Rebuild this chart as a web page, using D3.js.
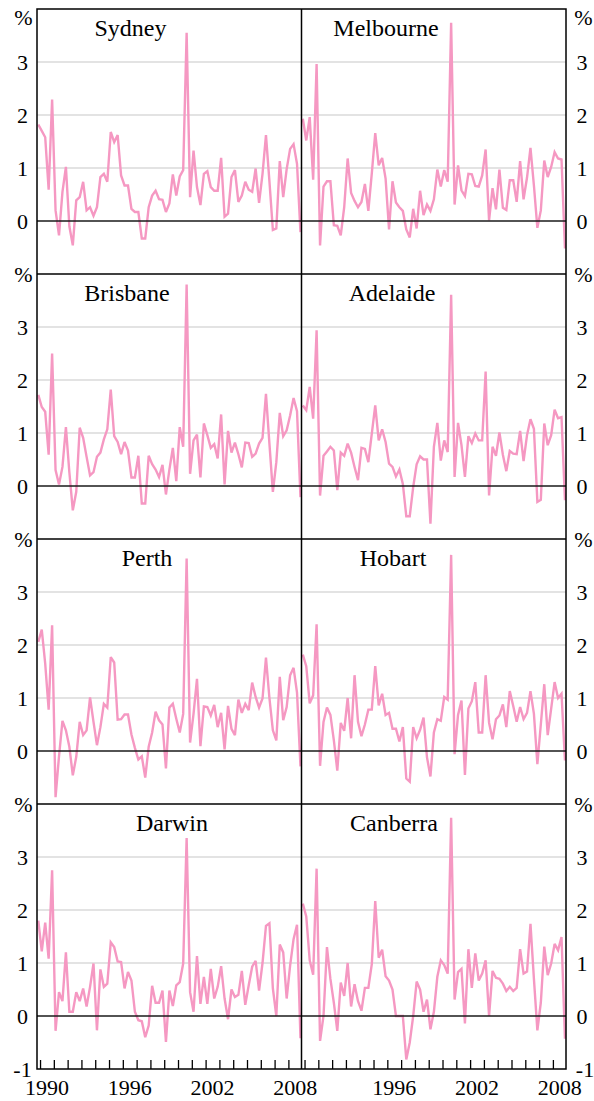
<!DOCTYPE html>
<html><head><meta charset="utf-8">
<script src="https://cdn.jsdelivr.net/npm/d3@7"></script>
<style>body{margin:0;background:#fff}svg{display:block}text{font-family:"Liberation Serif","Times New Roman",serif;fill:#000}</style>
</head><body>
<script>
// ---- data (quarterly % change, 1989 Q4 to 2008 Q4) ----
const cities = ["Sydney","Melbourne","Brisbane","Adelaide","Perth","Hobart","Darwin","Canberra"];
const startYear = 1989, startQuarter = 4;
const sydney = [1.82,1.70,1.58,0.59,2.29,0.20,-0.27,0.55,1.02,-0.10,-0.46,0.39,0.45,0.74,0.20,0.26,0.10,0.26,0.83,0.89,0.74,1.68,1.49,1.62,0.86,0.67,0.67,0.23,0.17,0.17,-0.33,-0.33,0.26,0.48,0.57,0.41,0.40,0.17,0.33,0.88,0.48,0.84,0.96,3.55,0.45,1.33,0.64,0.30,0.89,0.94,0.64,0.57,0.57,1.19,0.08,0.14,0.83,0.96,0.36,0.48,0.74,0.59,0.55,0.99,0.34,0.89,1.62,0.75,-0.17,-0.14,1.13,0.45,0.98,1.36,1.45,1.08,-0.21];
const melbourne = [1.93,1.52,1.96,0.78,2.96,-0.46,0.65,0.75,0.75,-0.08,-0.09,-0.27,0.26,1.18,0.53,0.38,0.26,0.36,0.70,0.19,0.90,1.66,1.05,1.19,0.80,-0.16,0.75,0.35,0.26,0.19,-0.16,-0.31,0.23,-0.14,0.57,0.11,0.31,0.19,0.41,0.97,0.65,0.96,0.74,3.74,0.31,1.05,0.58,0.47,0.89,0.88,0.66,0.65,0.86,1.35,0.01,0.62,0.22,0.97,0.25,0.21,0.77,0.77,0.36,1.13,0.41,0.82,1.38,0.67,-0.13,0.20,1.14,0.83,1.02,1.30,1.18,1.16,-0.52];
const brisbane = [1.72,1.49,1.40,0.59,2.50,0.30,0.03,0.36,1.11,0.26,-0.46,-0.11,1.10,0.91,0.55,0.20,0.26,0.55,0.63,0.88,1.07,1.82,0.94,0.83,0.60,0.83,0.67,0.16,0.16,0.57,-0.33,-0.33,0.57,0.41,0.31,0.17,0.40,-0.16,0.31,0.72,0.09,1.11,0.74,3.80,0.23,0.86,0.97,0.16,1.18,0.96,0.72,0.79,0.52,1.35,0.03,1.04,0.63,0.82,0.60,0.35,0.82,0.81,0.55,0.61,0.80,0.91,1.74,0.80,-0.11,0.45,1.38,0.94,1.05,1.33,1.66,1.41,-0.21];
const adelaide = [1.52,1.43,1.87,1.27,2.94,-0.18,0.57,0.65,0.74,0.67,-0.08,0.63,0.57,0.80,0.63,0.36,0.11,0.72,0.70,0.45,0.99,1.52,0.86,1.07,0.83,0.42,0.36,0.18,0.31,0.04,-0.57,-0.57,-0.02,0.41,0.56,0.50,0.50,-0.71,0.74,1.19,0.48,0.86,0.64,3.61,0.17,1.19,0.77,0.17,0.94,0.81,0.99,0.86,0.86,2.16,-0.18,0.74,0.57,1.01,0.59,0.28,0.66,0.61,0.60,1.04,0.47,0.96,1.26,1.08,-0.30,-0.26,1.18,0.77,0.96,1.44,1.28,1.30,-0.27];
const perth = [2.06,2.29,1.65,0.78,2.37,-0.87,-0.10,0.57,0.39,0.08,-0.46,-0.11,0.55,0.30,0.39,1.01,0.55,0.11,0.45,0.89,0.82,1.77,1.67,0.59,0.60,0.69,0.69,0.31,0.06,-0.16,-0.10,-0.50,0.08,0.35,0.74,0.58,0.50,-0.33,0.82,0.89,0.61,0.35,0.70,3.63,0.16,0.70,1.36,0.09,0.84,0.83,0.67,0.87,0.45,0.72,0.03,0.85,0.42,0.30,0.97,0.72,0.89,0.77,1.29,1.02,0.82,0.99,1.76,1.00,0.39,0.20,1.40,0.58,0.83,1.43,1.57,1.10,-0.29];
const hobart = [1.82,1.60,0.90,1.05,2.39,-0.28,0.55,0.82,0.68,0.20,-0.37,0.53,0.38,1.00,0.24,1.43,0.55,0.28,0.50,0.78,0.78,1.60,0.86,1.08,0.68,0.72,0.42,0.42,0.18,0.45,-0.52,-0.58,0.45,0.24,0.40,0.63,-0.12,-0.48,0.35,0.60,0.57,1.02,0.97,3.70,-0.06,0.68,0.95,-0.45,0.80,0.94,1.30,0.35,0.35,1.43,0.53,0.22,0.60,0.67,0.88,0.45,1.13,0.85,0.55,0.83,0.60,0.72,1.13,0.70,-0.25,0.50,1.26,0.30,0.80,1.30,1.00,1.08,-0.18];
const darwin = [1.80,1.22,1.76,1.08,2.75,-0.28,0.45,0.28,1.20,0.08,0.08,0.45,0.28,0.52,0.18,0.55,0.99,-0.27,0.88,0.55,0.61,1.39,1.30,1.03,1.02,0.52,0.83,0.67,0.08,-0.08,-0.10,-0.40,-0.18,0.57,0.25,0.25,0.48,-0.49,0.48,0.19,0.58,0.64,0.99,3.36,0.45,0.08,1.13,0.23,0.74,0.23,0.89,0.33,0.55,0.94,0.33,-0.06,0.50,0.36,0.40,0.85,0.21,0.58,0.93,1.04,0.48,1.00,1.70,1.75,0.52,0.00,1.35,1.20,0.33,0.95,1.45,1.72,-0.42];
const canberra = [2.12,1.88,1.05,0.78,2.78,-0.47,0.00,1.30,0.70,0.25,-0.28,0.63,0.38,1.00,0.18,0.60,0.28,0.10,0.53,0.53,0.98,2.17,1.10,1.25,0.75,0.67,0.50,0.00,0.00,0.00,-0.82,-0.50,0.00,0.65,0.50,0.08,0.31,-0.25,0.08,0.74,1.05,0.96,0.80,3.74,0.31,0.83,0.89,-0.14,1.26,0.53,1.18,0.67,0.80,1.05,0.00,0.85,0.72,0.70,0.61,0.47,0.55,0.47,0.53,1.26,0.80,0.84,1.74,0.70,-0.27,0.25,1.31,0.77,0.99,1.36,1.24,1.49,-0.43];
const series = [sydney, melbourne, brisbane, adelaide, perth, hobart, darwin, canberra];
const yTickValues = [0, 1, 2, 3];
const xTickYears = d3.range(1990, 2009);
const xLabelsLeft = [1990, 1996, 2002, 2008];
const xLabelsRight = [1996, 2002, 2008];

// ---- layout ----
const W = 594, H = 1101;
const frameL = 37, frameR = 566, frameT = 9, panelH = 265;
const colX = [frameL, (frameL + frameR) / 2];
const panelW = (frameR - frameL) / 2;
const titleOffset = [93.5, 84.5, 90, 90.5, 110, 91.5, 135, 92.5];
const lineColor = "#f598c2";

const svg = d3.select("body").append("svg").attr("width", W).attr("height", H);

const dates = series[0].map((_, i) => startYear + (startQuarter - 0.5) / 4 + i * 0.25);

series.forEach((vals, k) => {
  const row = Math.floor(k / 2), col = k % 2;
  const x0 = colX[col], y0 = frameT + row * panelH;
  const x = d3.scaleLinear().domain([1989.78, 2008.95]).range([x0, x0 + panelW]);
  const y = d3.scaleLinear().domain([-1, 4]).range([y0 + panelH, y0]);
  const g = svg.append("g");

  // grid
  g.selectAll("line.grid").data(yTickValues.filter(v => v !== 0)).join("line")
    .attr("x1", x0).attr("x2", x0 + panelW)
    .attr("y1", d => y(d)).attr("y2", d => y(d))
    .attr("stroke", "#c8c8c8").attr("stroke-width", 1.1);

  const cid = "clip" + k;
  svg.append("clipPath").attr("id", cid).append("rect")
    .attr("x", x0).attr("y", y0).attr("width", panelW).attr("height", panelH);

  g.append("path").datum(vals)
    .attr("clip-path", `url(#${cid})`)
    .attr("fill", "none").attr("stroke", lineColor).attr("stroke-width", 2.4)
    .attr("stroke-linejoin", "miter").attr("stroke-miterlimit", 3)
    .attr("d", d3.line().x((d, i) => x(dates[i])).y(d => y(d)));

  // zero line
  g.append("line").attr("x1", x0).attr("x2", x0 + panelW)
    .attr("y1", y(0)).attr("y2", y(0)).attr("stroke", "#1a1a1a").attr("stroke-width", 1.3);

  // title
  g.append("text").attr("x", x0 + titleOffset[k]).attr("y", y0 + 27)
    .attr("text-anchor", "middle").attr("font-size", 24).text(cities[k]);

  // y labels (left for col 0, right for col 1)
  const lx = col === 0 ? 22.5 : 582;
  const labs = yTickValues.map(v => ({v, t: String(v)}));
  g.selectAll("text.yl").data(labs).join("text")
    .attr("x", lx).attr("y", d => y(d.v)).attr("dy", "0.35em")
    .attr("text-anchor", "middle").attr("font-size", 22).text(d => d.t);
  g.append("text").attr("x", lx + (col === 0 ? 1 : 1.5))
    .attr("y", row === 0 ? 17 : y(4)).attr("dy", "0.35em")
    .attr("text-anchor", "middle").attr("font-size", 22).text("%");
  if (row === 3) {
    g.append("text").attr("x", lx + (col === 0 ? 0 : 3)).attr("y", y(-1)).attr("dy", "0.35em")
      .attr("text-anchor", "middle").attr("font-size", 22).text("-1");
    // x ticks
    const ax = d3.axisBottom(x).tickValues(xTickYears).tickSize(-9).tickFormat("");
    const ag = g.append("g").attr("transform", `translate(0,${y(-1)})`).call(ax);
    ag.select(".domain").remove();
    ag.selectAll("line").attr("stroke", "#000").attr("stroke-width", 1.3);
    const labels = col === 0 ? xLabelsLeft : xLabelsRight;
    g.selectAll("text.xl").data(labels).join("text")
      .attr("x", d => x(d + 0.5)).attr("y", 1095)
      .attr("text-anchor", "middle").attr("font-size", 22).text(d => d);
  }
});

// frame and dividers
svg.append("rect").attr("x", frameL).attr("y", frameT).attr("width", frameR - frameL)
  .attr("height", panelH * 4).attr("fill", "none").attr("stroke", "#000").attr("stroke-width", 1.5);
svg.append("line").attr("x1", colX[1]).attr("x2", colX[1]).attr("y1", frameT).attr("y2", frameT + 4 * panelH)
  .attr("stroke", "#000").attr("stroke-width", 1.5);
[1, 2, 3].forEach(r => {
  svg.append("line").attr("x1", frameL).attr("x2", frameR)
    .attr("y1", frameT + r * panelH).attr("y2", frameT + r * panelH)
    .attr("stroke", "#000").attr("stroke-width", 1.5);
});
</script>
</body></html>
